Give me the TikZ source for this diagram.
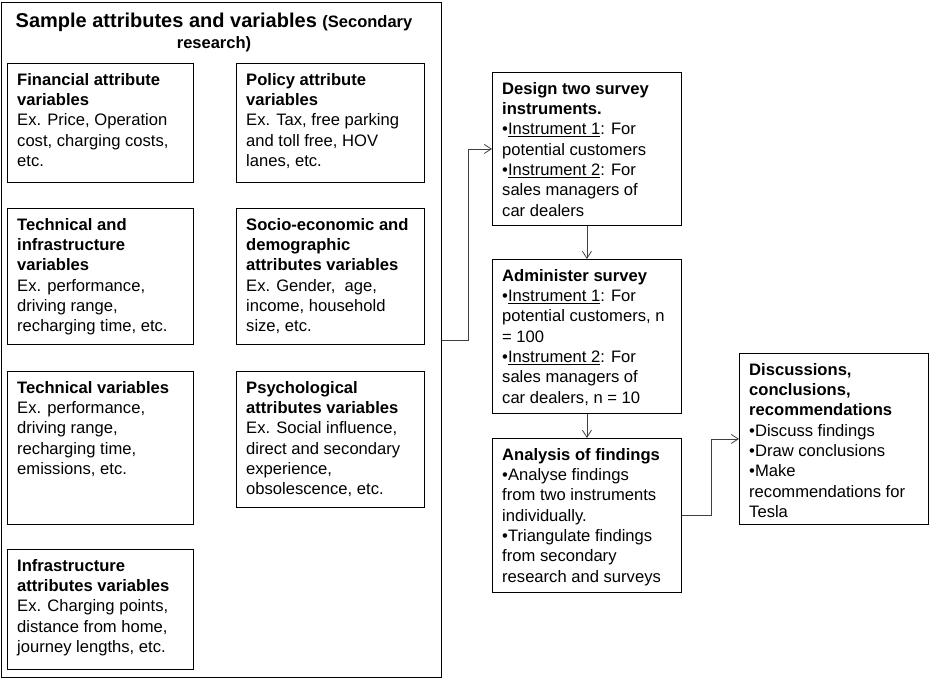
\documentclass[tikz,border=0pt]{standalone}
\usepackage{fontspec}
\setmainfont{Liberation Sans}
\usetikzlibrary{arrows.meta, positioning}
\definecolor{linkgray}{RGB}{64, 64, 64}
\newcommand{\bodysize}{\fontsize{16.6}{20.3}\selectfont}

\begin{document}
\begin{tikzpicture}[x=1pt, y=-1pt,
  varbox/.style={draw, line width=0.9pt, anchor=north west, inner sep=0pt},
  vartext/.style={anchor=north west, inner sep=0pt, align=left, font=\bodysize},
  link/.style={draw=linkgray, line width=0.8pt, -{Straight Barb[length=7pt, width=9pt]}}]

  \useasboundingbox (0,0) rectangle (930,683);

  % Secondary research frame
  \node[varbox, minimum width=440pt, minimum height=675pt] (sec) at (1,2) {};
  \node[anchor=north, inner sep=0pt, align=center, font=\fontsize{20}{21}\selectfont\bfseries] (title) at (214,12.5)
    {Sample attributes and variables {\fontsize{16.5}{21}\selectfont(Secondary}\\
     {\fontsize{16.5}{21}\selectfont research)}};

  % Attribute boxes, left column
  \node[varbox, minimum width=186pt, minimum height=119pt] (fin) at (7,63) {};
  \node[vartext, below right=10pt and 10pt of fin.north west] (fin-t)
    {\textbf{Financial attribute}\\ \textbf{variables}\\ Ex. Price, Operation\\ cost, charging costs,\\ etc.};

  \node[varbox, minimum width=186pt, minimum height=136pt] (techinf) at (7,208) {};
  \node[vartext, below right=10pt and 10pt of techinf.north west] (techinf-t)
    {\textbf{Technical and}\\ \textbf{infrastructure}\\ \textbf{variables}\\ Ex. performance,\\ driving range,\\ recharging time, etc.};

  \node[varbox, minimum width=186pt, minimum height=153pt] (tech) at (7,371) {};
  \node[vartext, below right=10pt and 10pt of tech.north west] (tech-t)
    {\textbf{Technical variables}\\ Ex. performance,\\ driving range,\\ recharging time,\\ emissions, etc.};

  \node[varbox, minimum width=186pt, minimum height=120pt] (infra) at (7,549) {};
  \node[vartext, below right=10pt and 10pt of infra.north west] (infra-t)
    {\textbf{Infrastructure}\\ \textbf{attributes variables}\\ Ex. Charging points,\\ distance from home,\\ journey lengths, etc.};

  % Attribute boxes, right column
  \node[varbox, minimum width=188pt, minimum height=119pt] (pol) at (236,63) {};
  \node[vartext, below right=10pt and 10pt of pol.north west] (pol-t)
    {\textbf{Policy attribute}\\ \textbf{variables}\\ Ex. Tax, free parking\\ and toll free, HOV\\ lanes, etc.};

  \node[varbox, minimum width=188pt, minimum height=136pt] (socio) at (236,208) {};
  \node[vartext, below right=10pt and 10pt of socio.north west] (socio-t)
    {\textbf{Socio-economic and}\\ \textbf{demographic}\\ \textbf{attributes variables}\\ Ex. Gender,\ \ age,\\ income, household\\ size, etc.};

  \node[varbox, minimum width=188pt, minimum height=136pt] (psych) at (236,371) {};
  \node[vartext, below right=10pt and 10pt of psych.north west] (psych-t)
    {\textbf{Psychological}\\ \textbf{attributes variables}\\ Ex. Social influence,\\ direct and secondary\\ experience,\\ obsolescence, etc.};

  % Survey steps
  \node[varbox, minimum width=189pt, minimum height=153pt] (design) at (492,72) {};
  \node[vartext, below right=10pt and 10pt of design.north west] (design-t)
    {\textbf{Design two survey}\\ \textbf{instruments.}\\ •\underline{Instrument 1}: For\\ potential customers\\ •\underline{Instrument 2}: For\\ sales managers of\\ car dealers};

  \node[varbox, minimum width=189pt, minimum height=154pt] (admin) at (492,259) {};
  \node[vartext, below right=10pt and 10pt of admin.north west] (admin-t)
    {\textbf{Administer survey}\\ •\underline{Instrument 1}: For\\ potential customers, n\\ = 100\\ •\underline{Instrument 2}: For\\ sales managers of\\ car dealers, n = 10};

  \node[varbox, minimum width=189pt, minimum height=154pt] (analysis) at (492,438) {};
  \node[vartext, below right=10pt and 10pt of analysis.north west] (analysis-t)
    {\textbf{Analysis of findings}\\ •Analyse findings\\ from two instruments\\ individually.\\ •Triangulate findings\\ from secondary\\ research and surveys};

  \node[varbox, minimum width=189pt, minimum height=171pt] (disc) at (739,353) {};
  \node[vartext, below right=10pt and 10pt of disc.north west] (disc-t)
    {\textbf{Discussions,}\\ \textbf{conclusions,}\\ \textbf{recommendations}\\ •Discuss findings\\ •Draw conclusions\\ •Make\\ recommendations for\\ Tesla};

  % Connectors
  \draw[link] (sec.east) -- ++(26,0) |- (design.west);
  \draw[link] (design) -- (admin);
  \draw[link] (admin) -- (analysis);
  \draw[link] (analysis.east) -- ++(29,0) |- (disc.west);
\end{tikzpicture}
\end{document}
